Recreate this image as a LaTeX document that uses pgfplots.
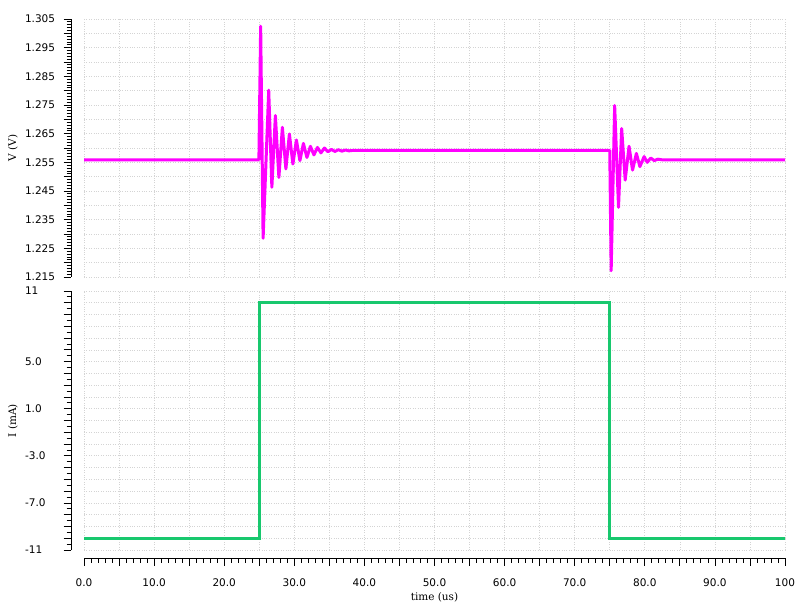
\documentclass[border=0pt]{standalone}
\usepackage{fontspec}
\setmainfont{DejaVu Sans}
\newfontfamily\serif{DejaVu Serif}
\usepackage{pgfplots}
\pgfplotsset{compat=1.18}
\definecolor{vcol}{RGB}{255,0,255}
\definecolor{icol}{RGB}{24,200,110}
\definecolor{gridc}{RGB}{212,212,212}

\pgfplotsset{
  ruler/.style={
    scale only axis, width=701pt, xmin=0, xmax=100,
    axis lines*=left,
    axis y line shift=13pt,
    tick align=outside,
    major tick length=7.5pt, minor tick length=4.5pt,
    tick style={black, line width=0.8pt},
    axis line style={black, line width=0.8pt},
    xtick={0,5,...,100},
    grid=major,
    major grid style={gridc, dash pattern=on 1pt off 1.4pt, line width=0.7pt},
    tick label style={font=\fontsize{10.5}{12}\selectfont},
    yticklabel style={anchor=west, xshift=-42pt},
    every axis y label/.style={at={(axis description cs:-0.1013,0.5)}, rotate=90, anchor=center, font=\serif\fontsize{10.5}{12}\selectfont},
    every axis x label/.style={at={(axis description cs:0.5,-0.1815)}, anchor=center, font=\serif\fontsize{10.5}{12}\selectfont},
  }
}

\begin{document}
\begin{tikzpicture}
\useasboundingbox (0,0) rectangle (810pt,-606pt);

% voltage
\begin{axis}[ruler,
  at={(84pt,-19pt)}, anchor=north west, height=258pt,
  ymin=1.215, ymax=1.305,
  ytick={1.215,1.22,1.225,1.23,1.235,1.24,1.245,1.25,1.255,1.26,1.265,1.27,1.275,1.28,1.285,1.29,1.295,1.3,1.305},
  yticklabels={1.215,,1.225,,1.235,,1.245,,1.255,,1.265,,1.275,,1.285,,1.295,,1.305},
  minor y tick num=4,
  xticklabels={},
  x axis line style={draw=none},
  every major x tick/.append style={draw=none},
  ylabel={V (V)},
]
\addplot[vcol, line width=3pt, line join=round] coordinates {
(0,1.2559) (24.95,1.2559)
(25.2,1.3025) (25.55,1.2285) (26.35,1.2802) (26.8,1.2463)
(27.3,1.2713) (27.8,1.2497) (28.3,1.2672) (28.8,1.2527)
(29.3,1.2649) (29.8,1.2544) (30.3,1.2628) (30.8,1.2556)
(31.3,1.2616) (31.8,1.2567) (32.3,1.2606) (32.8,1.2576)
(33.3,1.2602) (33.8,1.2583) (34.3,1.2600) (34.8,1.2587)
(35.3,1.2595) (35.8,1.2588) (36.3,1.2594) (36.8,1.2589)
(37.3,1.2593) (37.8,1.2590) (38.4,1.2592) (75.0,1.2592)
(75.2,1.2172) (75.7,1.2748) (76.25,1.2393) (76.7,1.2668)
(77.2,1.2488) (77.75,1.2606) (78.25,1.2523) (78.8,1.2581)
(79.3,1.2535) (79.9,1.2570) (80.35,1.2550) (80.85,1.2565)
(81.35,1.2556) (81.85,1.2561) (82.4,1.2559) (100,1.2559)
};
\end{axis}

% current
\begin{axis}[ruler,
  at={(84pt,-291pt)}, anchor=north west, height=259pt,
  ymin=-11, ymax=11,
  axis x line shift=8pt,
  ytick={-11,-10,...,11},
  yticklabels={-11,,,,-7.0,,,,-3.0,,,,1.0,,,,5.0,,,,,,11},
  minor y tick num=1,
  minor x tick num=4,
  xticklabels={0.0,,10.0,,20.0,,30.0,,40.0,,50.0,,60.0,,70.0,,80.0,,90.0,,100},
  xticklabel style={yshift=-10pt},
  ylabel={I (mA)},
  xlabel={time (us)},
]
\addplot[icol, line width=3pt] coordinates {
(0,-10) (25,-10) (25,10) (75,10) (75,-10) (100,-10)
};
\end{axis}
\end{tikzpicture}
\end{document}
